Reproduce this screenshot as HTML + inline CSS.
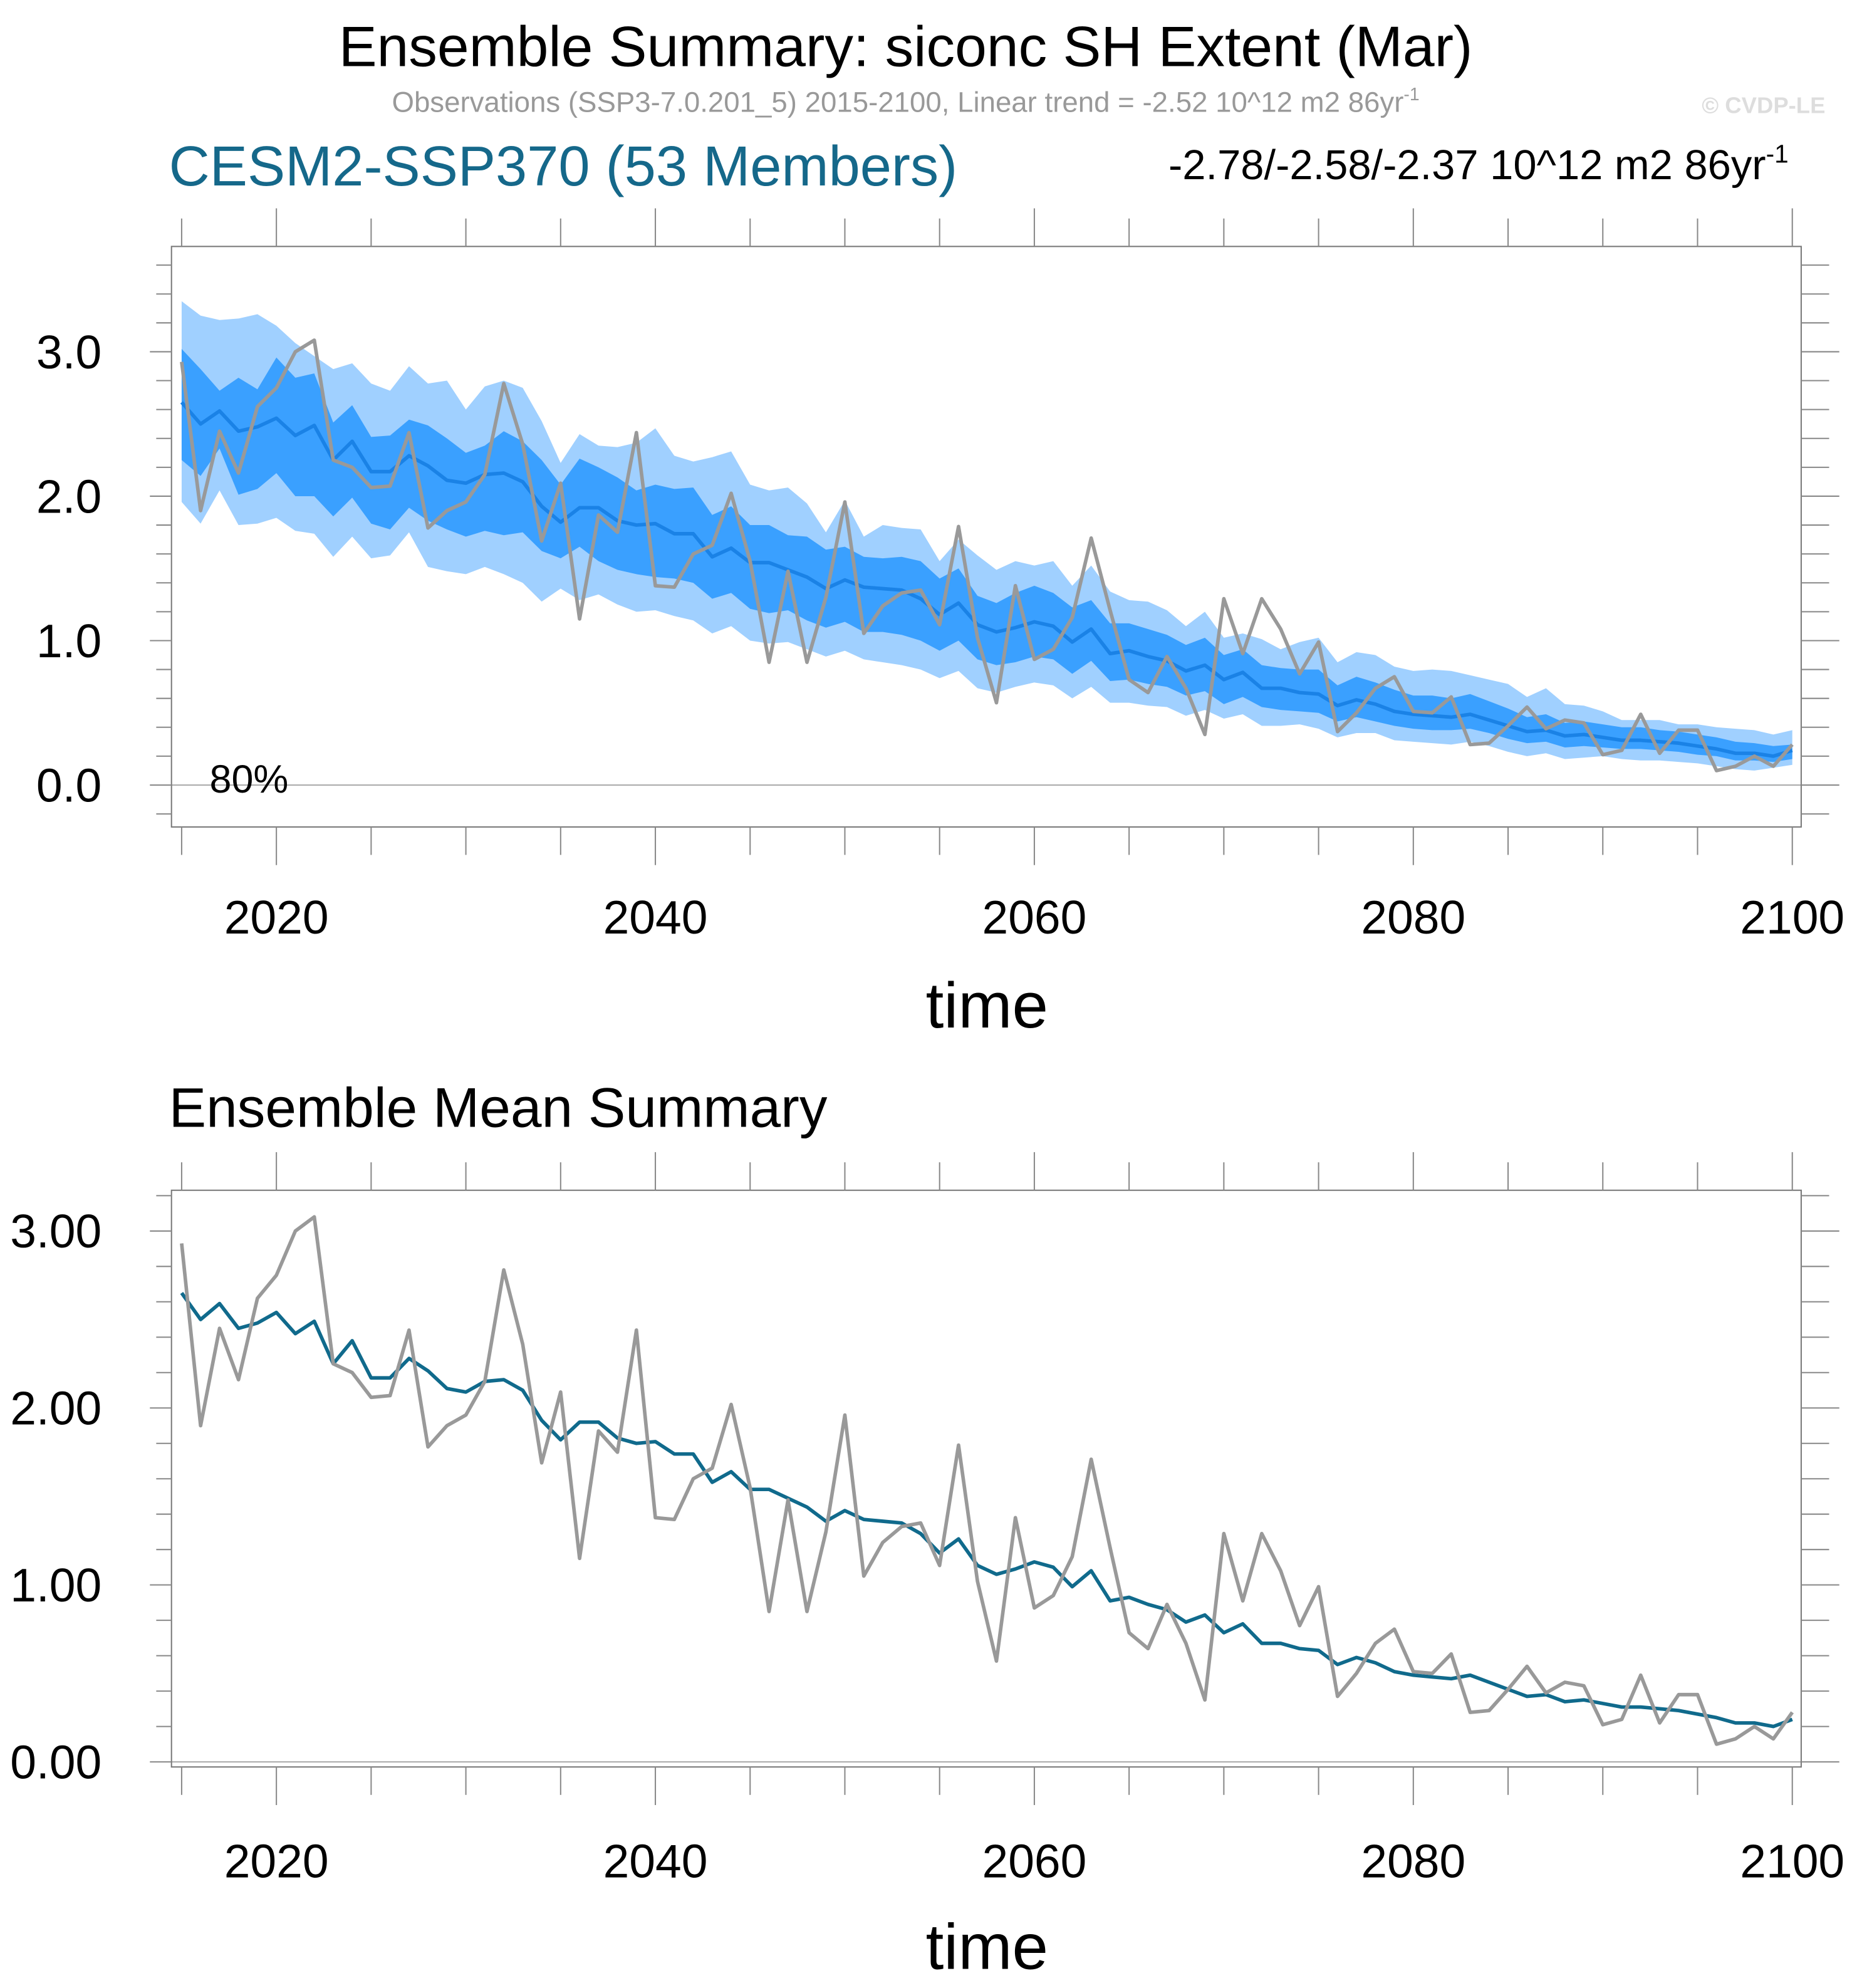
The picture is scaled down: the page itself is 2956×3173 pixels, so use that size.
<!DOCTYPE html>
<html><head><meta charset="utf-8"><style>
html,body{margin:0;padding:0;background:#fff}
svg{display:block}
text{font-family:"Liberation Sans",Arial,sans-serif}
</style></head><body>
<svg id="fig" xmlns="http://www.w3.org/2000/svg" width="2956" height="3173" viewBox="0 0 1458 1565">
<text x="713" y="52" font-size="45" text-anchor="middle" fill="#000">Ensemble Summary: siconc SH Extent (Mar)</text>
<text x="713" y="88" font-size="22.5" text-anchor="middle" fill="#999">Observations (SSP3-7.0.201_5) 2015-2100, Linear trend = -2.52 10^12 m2 86yr<tspan dy="-9" font-size="14">-1</tspan></text>
<text x="1437" y="89" font-size="18" font-weight="bold" text-anchor="end" fill="#ddd">© CVDP-LE</text>
<text x="133" y="146" font-size="44.5" fill="#15688a">CESM2-SSP370 (53 Members)</text>
<text x="1408" y="141" font-size="33" text-anchor="end" fill="#000">-2.78/-2.58/-2.37 10^12 m2 86yr<tspan dy="-13" font-size="20">-1</tspan></text>
<text x="133" y="887" font-size="44" fill="#000">Ensemble Mean Summary</text>
<g id="top"></g>
<g id="bot"></g>
</svg>
<script>
const years = []; for (let y = 2015; y <= 2100; y++) years.push(y);
const obs = [2.93,1.90,2.45,2.16,2.62,2.75,3.00,3.08,2.25,2.20,2.06,2.07,2.44,1.78,1.90,1.96,2.15,2.78,2.36,1.69,2.09,1.15,1.87,1.75,2.44,1.38,1.37,1.60,1.66,2.02,1.55,0.85,1.48,0.85,1.30,1.96,1.05,1.24,1.33,1.35,1.11,1.79,1.02,0.57,1.38,0.87,0.94,1.16,1.71,1.21,0.73,0.64,0.89,0.67,0.35,1.29,0.91,1.29,1.08,0.77,0.99,0.37,0.50,0.67,0.75,0.51,0.50,0.61,0.28,0.29,0.41,0.54,0.39,0.45,0.43,0.21,0.24,0.49,0.22,0.38,0.38,0.10,0.13,0.20,0.13,0.28];
const ensMean = [2.65,2.50,2.59,2.45,2.48,2.54,2.42,2.49,2.25,2.38,2.17,2.17,2.28,2.21,2.11,2.09,2.15,2.16,2.10,1.93,1.82,1.92,1.92,1.83,1.80,1.81,1.74,1.74,1.58,1.64,1.54,1.54,1.49,1.44,1.36,1.42,1.37,1.36,1.35,1.29,1.18,1.26,1.11,1.06,1.09,1.13,1.10,0.99,1.08,0.91,0.93,0.89,0.86,0.79,0.83,0.73,0.78,0.67,0.67,0.64,0.63,0.55,0.59,0.56,0.51,0.49,0.48,0.47,0.49,0.45,0.41,0.37,0.38,0.34,0.35,0.33,0.31,0.31,0.30,0.29,0.27,0.25,0.22,0.22,0.20,0.24];
const p90 = [3.35,3.25,3.22,3.23,3.26,3.18,3.06,2.97,2.88,2.92,2.78,2.73,2.90,2.78,2.80,2.60,2.76,2.80,2.75,2.52,2.23,2.43,2.35,2.34,2.37,2.47,2.28,2.24,2.27,2.31,2.08,2.04,2.06,1.95,1.75,1.97,1.72,1.80,1.78,1.77,1.55,1.70,1.59,1.49,1.55,1.52,1.55,1.38,1.52,1.34,1.28,1.27,1.21,1.10,1.20,1.02,1.05,1.01,0.94,0.99,1.02,0.85,0.92,0.90,0.82,0.79,0.80,0.79,0.76,0.73,0.70,0.61,0.67,0.56,0.55,0.51,0.45,0.45,0.45,0.42,0.42,0.40,0.39,0.38,0.35,0.38];
const p75 = [3.02,2.88,2.73,2.82,2.74,2.96,2.82,2.85,2.51,2.63,2.41,2.42,2.53,2.49,2.40,2.30,2.35,2.45,2.38,2.25,2.08,2.26,2.20,2.13,2.04,2.08,2.05,2.06,1.87,1.93,1.80,1.80,1.73,1.72,1.63,1.65,1.58,1.57,1.58,1.55,1.43,1.50,1.31,1.26,1.33,1.38,1.33,1.23,1.28,1.12,1.12,1.08,1.04,0.97,1.02,0.90,0.94,0.83,0.81,0.80,0.80,0.69,0.75,0.71,0.66,0.62,0.62,0.60,0.63,0.58,0.53,0.47,0.49,0.43,0.44,0.42,0.40,0.40,0.38,0.37,0.35,0.33,0.30,0.29,0.27,0.28];
const p25 = [2.25,2.14,2.33,2.01,2.05,2.16,2.00,2.00,1.86,1.99,1.81,1.77,1.92,1.83,1.77,1.72,1.76,1.73,1.75,1.62,1.57,1.65,1.55,1.49,1.46,1.44,1.43,1.40,1.29,1.33,1.22,1.19,1.21,1.14,1.09,1.13,1.06,1.06,1.04,1.00,0.93,1.00,0.87,0.83,0.85,0.89,0.87,0.77,0.86,0.72,0.73,0.70,0.68,0.62,0.65,0.56,0.61,0.54,0.52,0.51,0.50,0.44,0.47,0.44,0.41,0.39,0.38,0.38,0.39,0.36,0.32,0.29,0.30,0.26,0.27,0.26,0.25,0.25,0.24,0.23,0.21,0.20,0.17,0.17,0.16,0.18];
const p10 = [1.96,1.81,2.04,1.80,1.81,1.85,1.76,1.74,1.58,1.72,1.57,1.59,1.75,1.51,1.48,1.46,1.51,1.46,1.40,1.27,1.36,1.28,1.32,1.25,1.20,1.21,1.17,1.14,1.05,1.10,1.00,0.98,0.99,0.94,0.89,0.93,0.87,0.85,0.83,0.80,0.74,0.79,0.67,0.64,0.68,0.71,0.69,0.60,0.68,0.57,0.57,0.55,0.54,0.48,0.52,0.46,0.49,0.41,0.41,0.42,0.39,0.33,0.36,0.36,0.31,0.30,0.29,0.28,0.30,0.27,0.23,0.20,0.22,0.18,0.19,0.20,0.18,0.17,0.17,0.16,0.15,0.13,0.11,0.10,0.12,0.14];
const xTicks = [2020,2040,2060,2080,2100];
const yTicksTop = ["0.0","1.0","2.0","3.0"];
const yTicksBot = ["0.00","1.00","2.00","3.00"];

const NS = "http://www.w3.org/2000/svg";
function mk(parent, tag, attrs) {
  const e = document.createElementNS(NS, tag);
  for (const k in attrs) e.setAttribute(k, attrs[k]);
  parent.appendChild(e); return e;
}
const X = y => 143 + (y - 2015) * (1411 - 143) / 85;

function panel(g, cfg) {
  const Y = v => cfg.y0 - v * cfg.unit;
  const pts = arr => arr.map((v, i) => X(years[i]).toFixed(2) + "," + Y(v).toFixed(2));
  if (cfg.bands) {
    const l = mk(g, "polygon", {points: pts(p90).concat(pts(p10).reverse()).join(" "), fill: "#a0d0ff"});
    
    
    const d = mk(g, "polygon", {points: pts(p75).concat(pts(p25).reverse()).join(" "), fill: "#3aa0ff"});
    
    
  }
  const zl = mk(g, "line", {x1: 135, x2: 1418, y1: Y(0), y2: Y(0), stroke: "#aaa", "stroke-width": 1});
  
  
  const mLine = mk(g, "polyline", {points: pts(ensMean).join(" "), fill: "none", stroke: cfg.meanColor, "stroke-width": 2.8, "stroke-linejoin": "round"});
  
  
  const oLine = mk(g, "polyline", {points: pts(obs).join(" "), fill: "none", stroke: "#999", "stroke-width": 2.8, "stroke-linejoin": "round"});
  
  
  if (cfg.bands) { g.appendChild(mLine); g.appendChild(oLine); }
  const fr = mk(g, "rect", {x: 135, y: cfg.top, width: 1283, height: cfg.bot - cfg.top, fill: "none", stroke: "#777", "stroke-width": 1});
  
  
  for (let yr = 2015; yr <= 2100; yr += 5) {
    const major = xTicks.includes(yr);
    const len = major ? 30 : 22;
    const t1 = mk(g, "line", {x1: X(yr), x2: X(yr), y1: cfg.top, y2: cfg.top - len, stroke: "#888", "stroke-width": 1});
    
    
    const t2 = mk(g, "line", {x1: X(yr), x2: X(yr), y1: cfg.bot, y2: cfg.bot + len, stroke: "#888", "stroke-width": 1});
    
    
  }
  xTicks.forEach(yr => {
    const t = mk(g, "text", {x: X(yr), y: cfg.xlab, "font-size": 37, "text-anchor": "middle", fill: "#000"});
    t.textContent = yr;
    
    
  });
  for (let k = -5; k <= 25; k++) {
    const v = k * 0.2, yy = Y(v);
    if (yy < cfg.top + 0.5 || yy > cfg.bot - 0.5) continue;
    const major = k % 5 === 0;
    const len = major ? 17 : 12;
    const a = mk(g, "line", {x1: 135, x2: 135 - len, y1: yy, y2: yy, stroke: "#888", "stroke-width": 1});
    
    
    const b = mk(g, "line", {x1: 1418, x2: 1418 + (major ? 30 : 22), y1: yy, y2: yy, stroke: "#888", "stroke-width": 1});
    
    
  }
  cfg.ylabels.forEach((lab, i) => {
    const t = mk(g, "text", {x: cfg.ylx, y: Y(i) + 13, "font-size": 37, "text-anchor": "end", fill: "#000"});
    t.textContent = lab;
    
    
  });
  const xt = mk(g, "text", {x: 777, y: cfg.xtitle, "font-size": 51, "text-anchor": "middle", fill: "#000"});
  xt.textContent = "time";
  
  
}
panel(document.getElementById("top"), {y0: 618, unit: 113.7, top: 194, bot: 651, bands: true, meanColor: "#1a82e6", xlab: 735, xtitle: 809, ylabels: yTicksTop, ylx: 80});
panel(document.getElementById("bot"), {y0: 1387, unit: 139.3, top: 937, bot: 1391, bands: false, meanColor: "#106a8c", xlab: 1478, xtitle: 1550, ylabels: yTicksBot, ylx: 80});
const pct = mk(document.getElementById("top"), "text", {x: 165, y: 624, "font-size": 31, fill: "#000"});
pct.textContent = "80%";


</script>
</body></html>
